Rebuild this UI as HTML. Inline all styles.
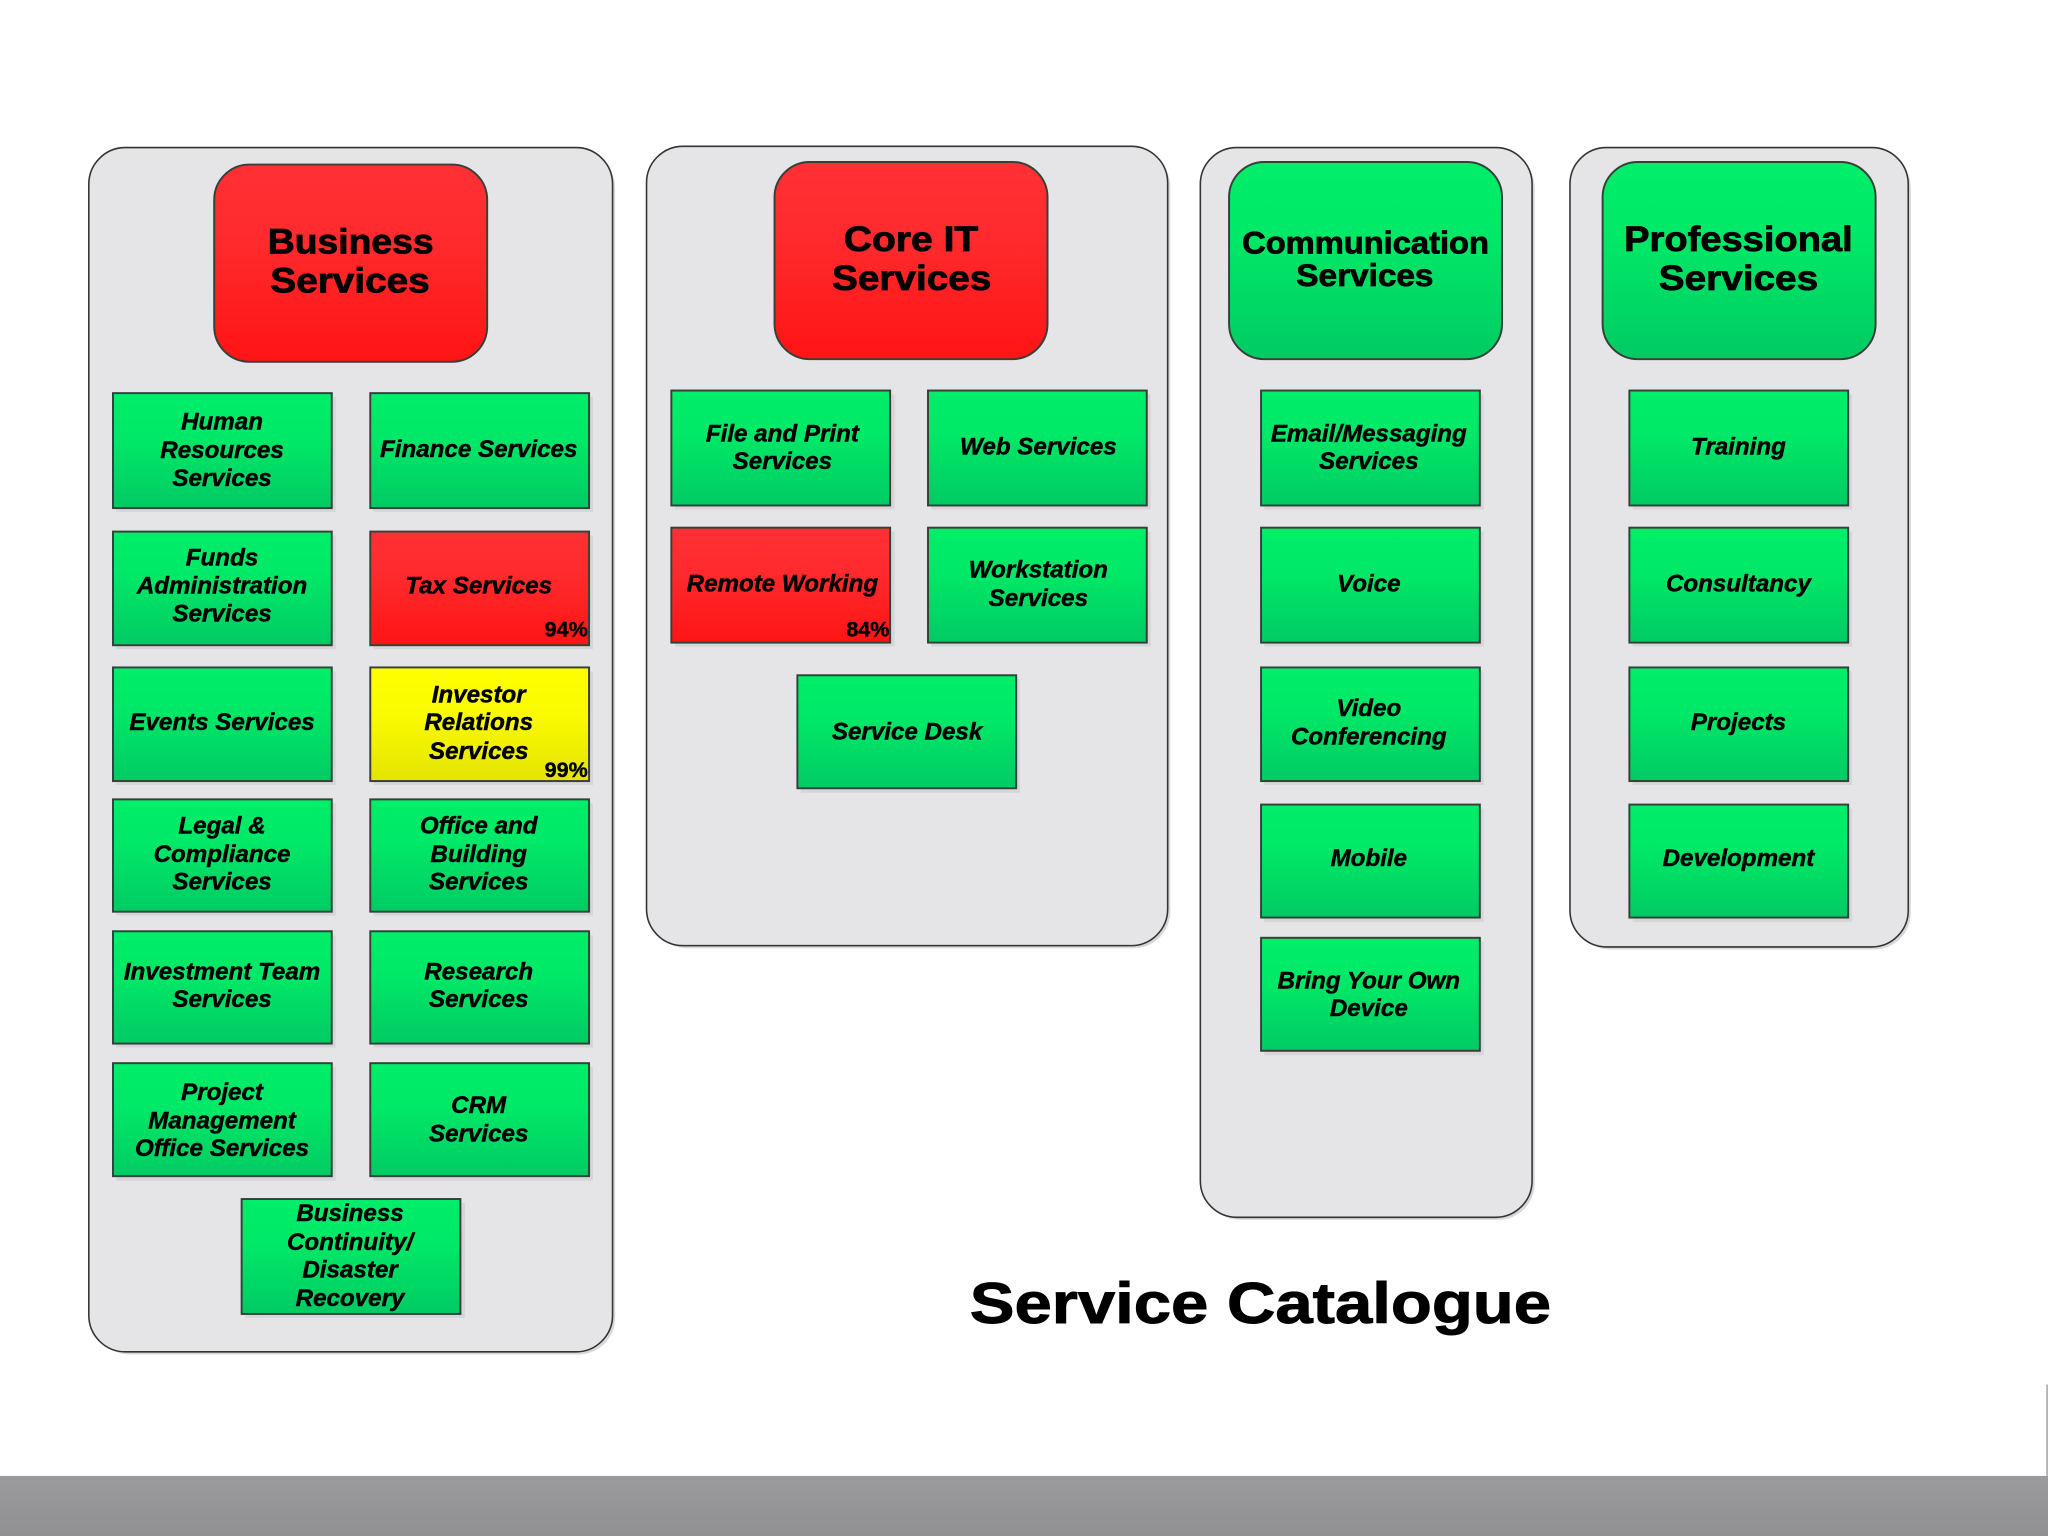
<!DOCTYPE html>
<html lang="en"><head><meta charset="utf-8"><title>Service Catalogue</title>
<style>
html,body{margin:0;padding:0;background:#fff;width:2048px;height:1536px;overflow:hidden}
svg{display:block}
.p{fill:#e5e5e7;stroke:#333;stroke-width:1.2}
.ps{fill:#d9d9db}
.b{stroke:#36403a;stroke-width:1.5}
.s{fill:#d6d6d8}
.g{fill:url(#g)}.r{fill:url(#r)}.y{fill:url(#y)}
text{font-family:"Liberation Sans",sans-serif;fill:#000;text-anchor:middle}
.t text,text.t{font-size:18.5px;font-weight:bold;font-style:italic;stroke:#000;stroke-width:.35}
text.h{font-size:27px;font-weight:bold;stroke:#000;stroke-width:.6}
text.c{font-size:16.5px;font-weight:bold;text-anchor:end;stroke:#000;stroke-width:.3}
</style></head><body>
<svg width="2048" height="1536" viewBox="0 0 1568 1176" xmlns="http://www.w3.org/2000/svg">
<defs>
<linearGradient id="g" x1="0" y1="0" x2="0" y2="1"><stop offset="0" stop-color="#00ee69"/><stop offset=".4" stop-color="#00e867"/><stop offset="1" stop-color="#00cb63"/></linearGradient>
<linearGradient id="r" x1="0" y1="0" x2="0" y2="1"><stop offset="0" stop-color="#ff3034"/><stop offset=".4" stop-color="#ff2a2d"/><stop offset="1" stop-color="#ff1414"/></linearGradient>
<linearGradient id="y" x1="0" y1="0" x2="0" y2="1"><stop offset="0" stop-color="#ffff00"/><stop offset=".4" stop-color="#fbfb00"/><stop offset="1" stop-color="#e4e400"/></linearGradient>
<linearGradient id="bar" x1="0" y1="0" x2="0" y2="1"><stop offset="0" stop-color="#9b9a9c"/><stop offset="1" stop-color="#908f91"/></linearGradient>
</defs>
<rect width="1568" height="1176" fill="#fff"/>
<rect x="0" y="1130" width="1568" height="46" fill="url(#bar)"/>
<rect x="1566.6" y="1060" width="1.4" height="70" fill="#b4b4b4"/>

<!-- panels -->
<rect class="ps" x="71" y="116" width="400" height="921" rx="28"/>
<rect class="p" x="68" y="113" width="401" height="922" rx="28"/>
<rect class="ps" x="498" y="115" width="398" height="611" rx="28"/>
<rect class="p" x="495" y="112" width="399" height="612" rx="28"/>
<rect class="ps" x="922" y="116" width="253" height="818" rx="28"/>
<rect class="p" x="919" y="113" width="254" height="819" rx="28"/>
<rect class="ps" x="1205" y="116" width="258" height="611" rx="28"/>
<rect class="p" x="1202" y="113" width="259" height="612" rx="28"/>

<!-- headers -->
<rect class="r b" x="164" y="126" width="209" height="151" rx="27"/>
<rect class="r b" x="593" y="124" width="209" height="151" rx="27"/>
<rect class="g b" x="941" y="124" width="209" height="151" rx="27"/>
<rect class="g b" x="1227" y="124" width="209" height="151" rx="27"/>
<text class="h" x="268.500" y="194" textLength="127" lengthAdjust="spacingAndGlyphs">Business</text>
<text class="h" x="268" y="224" textLength="122" lengthAdjust="spacingAndGlyphs">Services</text>
<text class="h" x="697.500" y="192" textLength="103" lengthAdjust="spacingAndGlyphs">Core IT</text>
<text class="h" x="698" y="222" textLength="122" lengthAdjust="spacingAndGlyphs">Services</text>
<text class="h" x="1045.500" y="194" style="font-size:24px" textLength="189" lengthAdjust="spacingAndGlyphs">Communication</text>
<text class="h" x="1045" y="219" style="font-size:24px" textLength="105" lengthAdjust="spacingAndGlyphs">Services</text>
<text class="h" x="1331" y="192" textLength="175" lengthAdjust="spacingAndGlyphs">Professional</text>
<text class="h" x="1331" y="222" textLength="122" lengthAdjust="spacingAndGlyphs">Services</text>

<!-- box shadows -->
<g class="s">
<rect x="89" y="304" width="168" height="88"/><rect x="286" y="304" width="168" height="88"/>
<rect x="89" y="410" width="168" height="87"/><rect x="286" y="410" width="168" height="87"/>
<rect x="89" y="514" width="168" height="87"/><rect x="286" y="514" width="168" height="87"/>
<rect x="89" y="615" width="168" height="86"/><rect x="286" y="615" width="168" height="86"/>
<rect x="89" y="716" width="168" height="86"/><rect x="286" y="716" width="168" height="86"/>
<rect x="89" y="817" width="168" height="87"/><rect x="286" y="817" width="168" height="87"/>
<rect x="188" y="921" width="168" height="88"/>
<rect x="517" y="302" width="168" height="88"/><rect x="713" y="302" width="168" height="88"/>
<rect x="517" y="407" width="168" height="88"/><rect x="713" y="407" width="168" height="88"/>
<rect x="613" y="520" width="168" height="87"/>
<rect x="968" y="302" width="168" height="88"/><rect x="968" y="407" width="168" height="88"/>
<rect x="968" y="514" width="168" height="87"/><rect x="968" y="619" width="168" height="87"/>
<rect x="968" y="721" width="168" height="87"/>
<rect x="1250" y="302" width="168" height="88"/><rect x="1250" y="407" width="168" height="88"/>
<rect x="1250" y="514" width="168" height="87"/><rect x="1250" y="619" width="168" height="87"/>
</g>

<!-- boxes: business -->
<rect class="g b" x="86.500" y="301" width="167.500" height="88"/><rect class="g b" x="283.500" y="301" width="167.500" height="88"/>
<rect class="g b" x="86.500" y="407" width="167.500" height="87"/><rect class="r b" x="283.500" y="407" width="167.500" height="87"/>
<rect class="g b" x="86.500" y="511" width="167.500" height="87"/><rect class="y b" x="283.500" y="511" width="167.500" height="87"/>
<rect class="g b" x="86.500" y="612" width="167.500" height="86"/><rect class="g b" x="283.500" y="612" width="167.500" height="86"/>
<rect class="g b" x="86.500" y="713" width="167.500" height="86"/><rect class="g b" x="283.500" y="713" width="167.500" height="86"/>
<rect class="g b" x="86.500" y="814" width="167.500" height="86.500"/><rect class="g b" x="283.500" y="814" width="167.500" height="86.500"/>
<rect class="g b" x="185" y="918" width="167.500" height="88"/>
<!-- core IT -->
<rect class="g b" x="514" y="299" width="167.500" height="88"/><rect class="g b" x="710.500" y="299" width="167.500" height="88"/>
<rect class="r b" x="514" y="404" width="167.500" height="88"/><rect class="g b" x="710.500" y="404" width="167.500" height="88"/>
<rect class="g b" x="610.500" y="517" width="167.500" height="86.500"/>
<!-- comms -->
<rect class="g b" x="965.500" y="299" width="167.500" height="88"/><rect class="g b" x="965.500" y="404" width="167.500" height="88"/>
<rect class="g b" x="965.500" y="511" width="167.500" height="87"/><rect class="g b" x="965.500" y="616" width="167.500" height="86.500"/>
<rect class="g b" x="965.500" y="718" width="167.500" height="86.500"/>
<!-- professional -->
<rect class="g b" x="1247.500" y="299" width="167.500" height="88"/><rect class="g b" x="1247.500" y="404" width="167.500" height="88"/>
<rect class="g b" x="1247.500" y="511" width="167.500" height="87"/><rect class="g b" x="1247.500" y="616" width="167.500" height="86.500"/>

<g class="t">
<text x="170" y="329">Human</text><text x="170" y="350.500">Resources</text><text x="170" y="372">Services</text>
<text x="366.500" y="350">Finance Services</text>
<text x="170" y="433">Funds</text><text x="170" y="454.500">Administration</text><text x="170" y="476">Services</text>
<text x="366.500" y="454.500">Tax Services</text>
<text x="170" y="559">Events Services</text>
<text x="366.500" y="538">Investor</text><text x="366.500" y="559">Relations</text><text x="366.500" y="581">Services</text>
<text x="170" y="638">Legal &amp;</text><text x="170" y="660">Compliance</text><text x="170" y="681">Services</text>
<text x="366.500" y="638">Office and</text><text x="366.500" y="660">Building</text><text x="366.500" y="681">Services</text>
<text x="170" y="750">Investment Team</text><text x="170" y="771">Services</text>
<text x="366.500" y="750">Research</text><text x="366.500" y="771">Services</text>
<text x="170" y="842">Project</text><text x="170" y="864">Management</text><text x="170" y="885">Office Services</text>
<text x="366.500" y="852">CRM</text><text x="366.500" y="874">Services</text>
<text x="268" y="935">Business</text><text x="268" y="957">Continuity/</text><text x="268" y="978">Disaster</text><text x="268" y="1000">Recovery</text>

<text x="599" y="338">File and Print</text><text x="599" y="359">Services</text>
<text x="795" y="348">Web Services</text>
<text x="599" y="453">Remote Working</text>
<text x="795" y="442">Workstation</text><text x="795" y="464">Services</text>
<text x="694.500" y="566">Service Desk</text>

<text x="1048" y="338">Email/Messaging</text><text x="1048" y="359">Services</text>
<text x="1048" y="453">Voice</text>
<text x="1048" y="548">Video</text><text x="1048" y="570">Conferencing</text>
<text x="1048" y="663">Mobile</text>
<text x="1048" y="757">Bring Your Own</text><text x="1048" y="778">Device</text>

<text x="1331" y="348">Training</text>
<text x="1331" y="453">Consultancy</text>
<text x="1331" y="559">Projects</text>
<text x="1331" y="663">Development</text>
</g>

<text class="c" x="450" y="487.500">94%</text>
<text class="c" x="450" y="595">99%</text>
<text class="c" x="681" y="487.500">84%</text>

<text x="965" y="1013" style="font-size:44px;font-weight:bold;stroke:#000;stroke-width:.7" textLength="445" lengthAdjust="spacingAndGlyphs">Service Catalogue</text>
</svg>
</body></html>
